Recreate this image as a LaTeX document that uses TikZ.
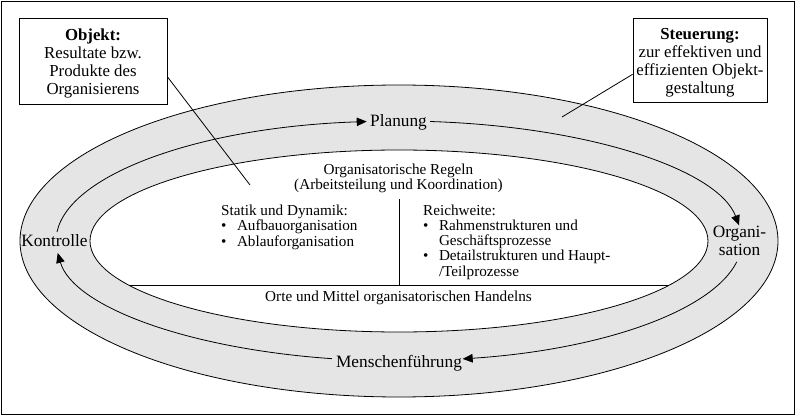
\documentclass[tikz,border=0pt]{standalone}
\usepackage{fontspec}
\setmainfont{Liberation Serif}
\usepackage{tikz}
\usetikzlibrary{calc,arrows.meta}

\definecolor{ringgray}{gray}{0.9}
\tikzset{
  ring/.style={line width=0.8pt},
  flow/.style={line width=0.8pt,-{Triangle[length=10pt,width=8.5pt]}},
  innertext/.style={font=\fontsize{15.2}{15}\selectfont,inner sep=0pt},
  lbl/.style={font=\fontsize{17.3}{18.4}\selectfont,inner sep=0pt},
  infobox/.style 2 args={draw,line width=0.9pt,fill=white,inner sep=2pt,
    minimum width=#1,minimum height=#2,font=\fontsize{16.8}{17.8}\selectfont}
}

\begin{document}
\begin{tikzpicture}[x=1pt,y=1pt]
\useasboundingbox (0,0) rectangle (796,416);
\draw[line width=0.9pt] (1,1.5) rectangle (794.5,415);
%%%% ring
\coordinate (C) at (399,175);
\filldraw[fill=ringgray,ring] (C) ellipse [x radius=379pt, y radius=156pt];
\filldraw[fill=white,ring] (C) ellipse [x radius=309pt, y radius=91pt];
%%%% cycle labels
\node[lbl,anchor=base] (plan) at (398.5,290) {Planung};
\node[lbl,anchor=base] (orga) at (739.5,178.7)
  {\begin{tabular}[t]{@{}c@{}}Organi-\\sation\end{tabular}};
\node[lbl,anchor=base] (mensch) at (399,48.7) {Menschenführung};
\node[lbl,anchor=base] (kontr) at (54.5,169.3) {Kontrolle};
%%%% cycle arrows
\coordinate (p1) at ($(C)+(84.8:343pt and 120pt)$);
\coordinate (p2) at ($(C)+(-10:343pt and 120pt)$);
\coordinate (p3) at ($(C)+(-101.3:343pt and 120pt)$);
\coordinate (p4) at ($(C)+(175.7:343pt and 120pt)$);
\draw[flow] (p1) arc[start angle=84.8, end angle=7.5, x radius=343pt, y radius=120pt];
\draw[flow] (p2) arc[start angle=-10, end angle=-79.3, x radius=343pt, y radius=120pt];
\draw[flow] (p3) arc[start angle=-101.3, end angle=-174.3, x radius=343pt, y radius=120pt];
\draw[flow] (p4) arc[start angle=175.7, end angle=95.4, x radius=343pt, y radius=120pt];
%%%% inner part
\coordinate (chl) at ($(C)+(208.92:309pt and 91pt)$);
\coordinate (chr) at ($(C)+(-28.92:309pt and 91pt)$);
\draw[ring] (chl) -- (chr);
\coordinate (vtop) at (399,217);
\coordinate (vbot) at (399,131);
\draw[ring] (vtop) -- (vbot);
\node[innertext,anchor=base] (regeln) at (398.5,241.7)
  {\begin{tabular}[t]{@{}c@{}}Organisatorische Regeln\\(Arbeitsteilung und Koordination)\end{tabular}};
\node[innertext,anchor=base west] (statik) at (221,200.3)
  {\begin{tabular}[t]{@{}l@{\hspace{10.5pt}}l@{}}
   \multicolumn{2}{@{}l@{}}{Statik und Dynamik:}\\
   \textbullet & Aufbauorganisation\\
   \textbullet & Ablauforganisation
   \end{tabular}};
\node[innertext,anchor=base west] (reich) at (423,200.3)
  {\begin{tabular}[t]{@{}l@{\hspace{10.5pt}}l@{}}
   \multicolumn{2}{@{}l@{}}{Reichweite:}\\
   \textbullet & Rahmenstrukturen und\\
               & Geschäftsprozesse\\
   \textbullet & Detailstrukturen und Haupt-\\
               & /Teilprozesse
   \end{tabular}};
\node[innertext,anchor=base] (orte) at (398.5,114.5) {Orte und Mittel organisatorischen Handelns};
%%%% boxes
\node[infobox={148pt}{86pt}] (objekt) at (93,355)
  {\begin{tabular}{@{}c@{}}\rule{0pt}{18pt}\textbf{Objekt:}\\Resultate bzw.\\Produkte des\\Organisierens\end{tabular}};
\node[infobox={134pt}{84pt}] (steuer) at (700,356)
  {\begin{tabular}{@{}c@{}}\rule{0pt}{18pt}\textbf{Steuerung:}\\zur effektiven und\\effizienten Objekt-\\gestaltung\end{tabular}};
\coordinate (objend) at (250,231);
\draw[ring] (objekt.-12.2) -- (objend);
\coordinate (steuend) at (562,299);
\draw[ring] (steuer.192.6) -- (steuend);
\end{tikzpicture}
\end{document}
